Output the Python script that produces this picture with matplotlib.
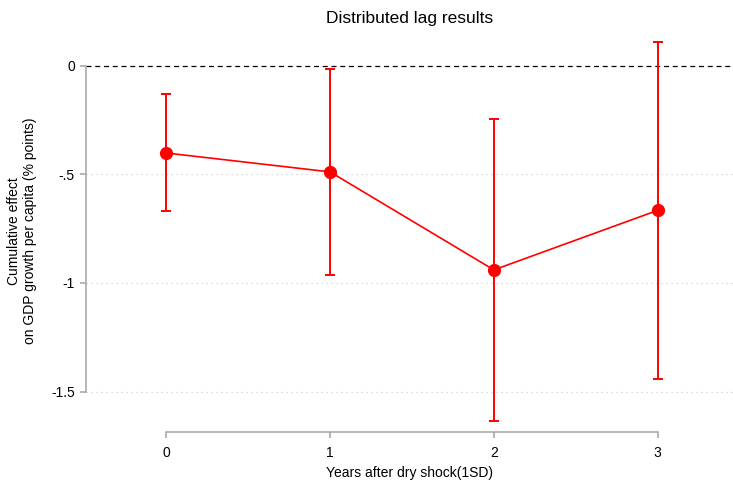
import matplotlib
matplotlib.use("Agg")
import matplotlib.pyplot as plt
import numpy as np

# estimates
years = [0, 1, 2, 3]
effect = [-0.402, -0.489, -0.940, -0.666]
ci_low = [-0.667, -0.962, -1.637, -1.442]
ci_high = [-0.132, -0.014, -0.244, 0.109]
yticks = [0, -0.5, -1, -1.5]
ytick_labels = ["0", "-.5", "-1", "-1.5"]

plt.rcParams["font.family"] = ["Liberation Sans", "DejaVu Sans"]


def main() -> None:
    fig = plt.figure(figsize=(7.33, 4.83), dpi=100)
    ax = fig.add_axes([86 / 733, 51 / 483, 1 - 86 / 733, 1 - 30 / 483 - 51 / 483])

    eff = np.array(effect)
    yerr = [eff - np.array(ci_low), np.array(ci_high) - eff]
    ax.errorbar(years, eff, yerr=yerr, color="red", ecolor="red", lw=1.2,
                elinewidth=1.4, capsize=3.6, capthick=1.4, marker="o",
                markersize=8.5, zorder=3)

    ax.axhline(0, color="black", lw=0.9, ls=(0, (4, 3)), zorder=2)
    for v in yticks[1:]:
        ax.axhline(v, color="#d0d0d0", lw=0.9, ls=(0, (1, 3)), zorder=1)

    ax.set_xlim(-0.49, 3.46)
    ax.set_ylim(-1.686, 0.164)

    ax.set_xticks(years)
    ax.set_yticks(yticks, ytick_labels)
    ax.tick_params(colors="#aaaaaa", labelcolor="black", labelsize=10, length=4.5, width=1.2)
    ax.tick_params(axis="x", pad=5.5)

    for side in ("top", "right"):
        ax.spines[side].set_visible(False)
    for side in ("left", "bottom"):
        ax.spines[side].set_color("#aaaaaa")
        ax.spines[side].set_linewidth(1.2)
    ax.spines["left"].set_bounds(-1.5, 0)
    ax.spines["bottom"].set_bounds(0, 3)

    ax.set_xlabel("Years after dry shock(1SD)", fontsize=10, labelpad=4.5)
    ax.set_ylabel("Cumulative effect\non GDP growth per capita (% points)", fontsize=10, labelpad=10)
    fig.text(0.559, 0.962, "Distributed lag results", ha="center", va="center", fontsize=12.5)

    fig.savefig("out.png", dpi=100)


if __name__ == "__main__":
    main()
